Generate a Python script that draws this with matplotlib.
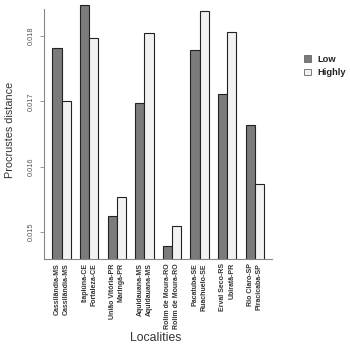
import numpy as np
import matplotlib
matplotlib.use("Agg")
import matplotlib.pyplot as plt
from matplotlib.patches import Patch

# values
low_labels = ["Cassilândia-MS", "Itapiúna-CE", "União Vitória-PR", "Aquidauana-MS",
              "Rolim de Moura-RO", "Pacatuba-SE", "Erval Seco-RS", "Rio Claro-SP"]
high_labels = ["Cassilândia-MS", "Fortaleza-CE", "Maringá-PR", "Aquidauana-MS",
               "Rolim de Moura-RO", "Ruachuelo-SE", "Ubiratã-PR", "Piracicaba-SP"]
low_vals = [0.01781, 0.01847, 0.01524, 0.01698, 0.01478, 0.01779, 0.01711, 0.01664]
high_vals = [0.01700, 0.01797, 0.01554, 0.01805, 0.01509, 0.01838, 0.01806, 0.01574]
yticks = [0.015, 0.016, 0.017, 0.018]

plt.rcParams['font.family'] = ['Liberation Sans', 'DejaVu Sans']

fig = plt.figure(figsize=(3.5, 3.5), dpi=100)
ax = fig.add_axes([44/350, 1-259/350, 228.5/350, 255/350])

n = len(low_vals)
x_low = 1.5 + 3*np.arange(n)
x_high = x_low + 1
low_col, high_col = "#7b7b7b", "#f2f2f2"
ax.bar(x_low, low_vals, width=1, color=low_col, edgecolor="#222222", linewidth=0.8)
ax.bar(x_high, high_vals, width=1, color=high_col, edgecolor="#222222", linewidth=0.8)

ymin = 0.015 - 27/65.4*0.001
ymax = 0.018 + 32/65.4*0.001
ax.set_ylim(ymin, ymax)
ax.set_xlim(0.08, 24.92)

for s in ["top", "right"]:
    ax.spines[s].set_visible(False)
ax.spines["left"].set_bounds(ymin, 0.018 + 27/65.4*0.001)
for s in ["left", "bottom"]:
    ax.spines[s].set_color("#888888")
    ax.spines[s].set_linewidth(0.8)

ax.set_yticks(yticks)
ax.set_yticklabels(["%.3f" % v for v in yticks], rotation=90, va="center")
ax.tick_params(axis="y", length=3, width=0.6, color="#888888", labelsize=5.3,
               labelcolor="#555555", pad=4)

xt = np.ravel(np.column_stack([x_low, x_high]))
xl = [l for pair in zip(low_labels, high_labels) for l in pair]
ax.set_xticks(xt)
ax.set_xticklabels(xl, rotation=90, fontsize=5, fontweight="bold", color="#333333")
ax.tick_params(axis="x", length=0, pad=3)

fig.text(10/350, 1-130/350, "Procrustes distance", rotation=90, ha="center", va="center",
         fontsize=7.8, color="#333333")
fig.text(156/350, 1-338/350, "Localities", ha="center", va="center",
         fontsize=8.8, color="#333333")

handles = [Patch(facecolor=low_col, edgecolor="#666666", linewidth=0.6, label="Low"),
           Patch(facecolor=high_col, edgecolor="#666666", linewidth=0.6, label="Highly")]
fig.legend(handles=handles, loc="upper left", bbox_to_anchor=(304/350, 1-55/350), frameon=False,
           prop={"weight": "bold", "size": 6.7}, handlelength=0.7, handleheight=0.7,
           handletextpad=0.7, labelspacing=0.45, borderpad=0, borderaxespad=0,
           labelcolor="#222222")

fig.savefig("out.png", dpi=100, facecolor="white")
